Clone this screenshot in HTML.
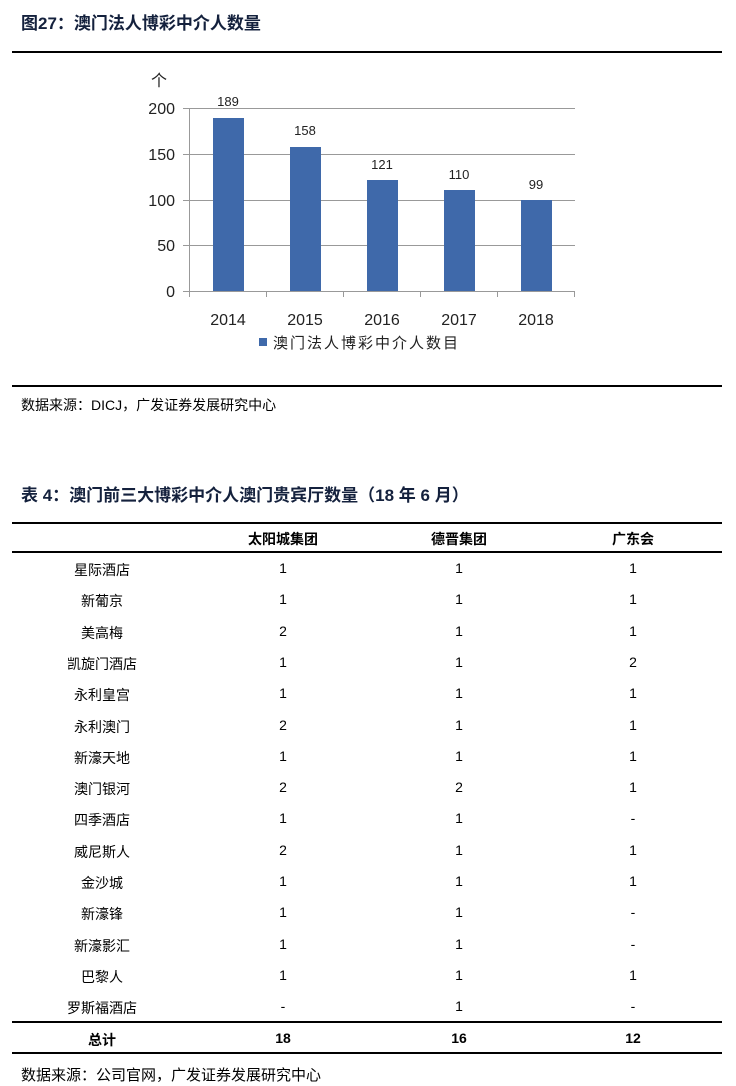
<!DOCTYPE html><html><head><meta charset="utf-8"><style>
body{margin:0;width:736px;height:1086px;background:#fff;position:relative;font-family:"Liberation Sans","Noto Sans CJK SC",sans-serif;color:#000;overflow:hidden}
.a{position:absolute;white-space:nowrap}
.t{font-weight:bold;font-size:17px;color:#14213d}
.line{position:absolute;left:12px;width:710px;background:#000}
.c{position:absolute;transform:translateX(-50%);font-size:14px;white-space:nowrap}
</style></head><body>
<div class="a t" style="left:21px;top:9px">图27：澳门法人博彩中介人数量</div>
<div class="line" style="top:51px;height:2px"></div>
<svg class="a" style="left:0;top:0" width="736" height="380" font-family="Liberation Sans, Noto Sans CJK SC, sans-serif">
<g stroke="#999" stroke-width="1">
<line x1="189" y1="108.5" x2="575" y2="108.5"/><line x1="189" y1="154.5" x2="575" y2="154.5"/><line x1="189" y1="200.5" x2="575" y2="200.5"/><line x1="189" y1="245.5" x2="575" y2="245.5"/>
<line x1="189.5" y1="108" x2="189.5" y2="297"/><line x1="183" y1="291.5" x2="575" y2="291.5"/>
<line x1="266.5" y1="291" x2="266.5" y2="297"/><line x1="343.5" y1="291" x2="343.5" y2="297"/><line x1="420.5" y1="291" x2="420.5" y2="297"/><line x1="497.5" y1="291" x2="497.5" y2="297"/><line x1="574.5" y1="291" x2="574.5" y2="297"/>
<line x1="183" y1="108.5" x2="189" y2="108.5"/><line x1="183" y1="154.5" x2="189" y2="154.5"/><line x1="183" y1="200.5" x2="189" y2="200.5"/><line x1="183" y1="245.5" x2="189" y2="245.5"/>
</g>
<g fill="#3f69aa">
<rect x="213" y="118" width="31" height="173"/><rect x="290" y="147" width="31" height="144"/><rect x="367" y="180" width="31" height="111"/><rect x="444" y="190" width="31" height="101"/><rect x="521" y="200" width="31" height="91"/>
</g>
<g font-size="16" fill="#222" text-anchor="end">
<text x="175" y="114">200</text><text x="175" y="160">150</text><text x="175" y="206">100</text><text x="175" y="251">50</text><text x="175" y="297">0</text>
</g>
<text x="151" y="86" font-size="16" fill="#222">个</text>
<g font-size="13" fill="#222" text-anchor="middle">
<text x="228" y="106">189</text><text x="305" y="135">158</text><text x="382" y="169">121</text><text x="459" y="179">110</text><text x="536" y="189">99</text>
</g>
<g font-size="16" fill="#222" text-anchor="middle">
<text x="228" y="325">2014</text><text x="305" y="325">2015</text><text x="382" y="325">2016</text><text x="459" y="325">2017</text><text x="536" y="325">2018</text>
</g>
<rect x="259" y="338" width="8" height="8" fill="#3f69aa"/>
<text x="273" y="348" font-size="15" fill="#222" letter-spacing="2">澳门法人博彩中介人数目</text>
</svg>
<div class="line" style="top:385px;height:2px"></div>
<div class="a" style="left:21px;top:395px;font-size:14px">数据来源：DICJ，广发证券发展研究中心</div>
<div class="a t" style="left:21px;top:481px">表 4：澳门前三大博彩中介人澳门贵宾厅数量（18 年 6 月）</div>
<div class="line" style="top:522px;height:2px"></div>
<div class="line" style="top:551px;height:2px"></div>
<div class="line" style="top:1021px;height:2px"></div>
<div class="line" style="top:1052px;height:2px"></div>
<div class="c" style="left:283px;top:529px;font-weight:bold">太阳城集团</div>
<div class="c" style="left:459px;top:529px;font-weight:bold">德晋集团</div>
<div class="c" style="left:633px;top:529px;font-weight:bold">广东会</div>
<div id="rows"></div>
<div class="c" style="left:102px;top:1030px;font-weight:bold">总计</div>
<div class="c" style="left:283px;top:1030px;font-weight:bold">18</div>
<div class="c" style="left:459px;top:1030px;font-weight:bold">16</div>
<div class="c" style="left:633px;top:1030px;font-weight:bold">12</div>
<div class="a" style="left:21px;top:1064px;font-size:15px">数据来源：公司官网，广发证券发展研究中心</div>
<script>
var d=[["星际酒店",1,1,1],["新葡京",1,1,1],["美高梅",2,1,1],["凯旋门酒店",1,1,2],["永利皇宫",1,1,1],["永利澳门",2,1,1],["新濠天地",1,1,1],["澳门银河",2,2,1],["四季酒店",1,1,"-"],["威尼斯人",2,1,1],["金沙城",1,1,1],["新濠锋",1,1,"-"],["新濠影汇",1,1,"-"],["巴黎人",1,1,1],["罗斯福酒店","-",1,"-"]];
var h="",x=[102,283,459,633];
d.forEach(function(r,i){var y=560+i*31.3;r.forEach(function(v,j){h+='<div class="c" style="left:'+x[j]+'px;top:'+y+'px">'+v+'</div>';});});
document.getElementById("rows").innerHTML=h;
</script>
</body></html>
